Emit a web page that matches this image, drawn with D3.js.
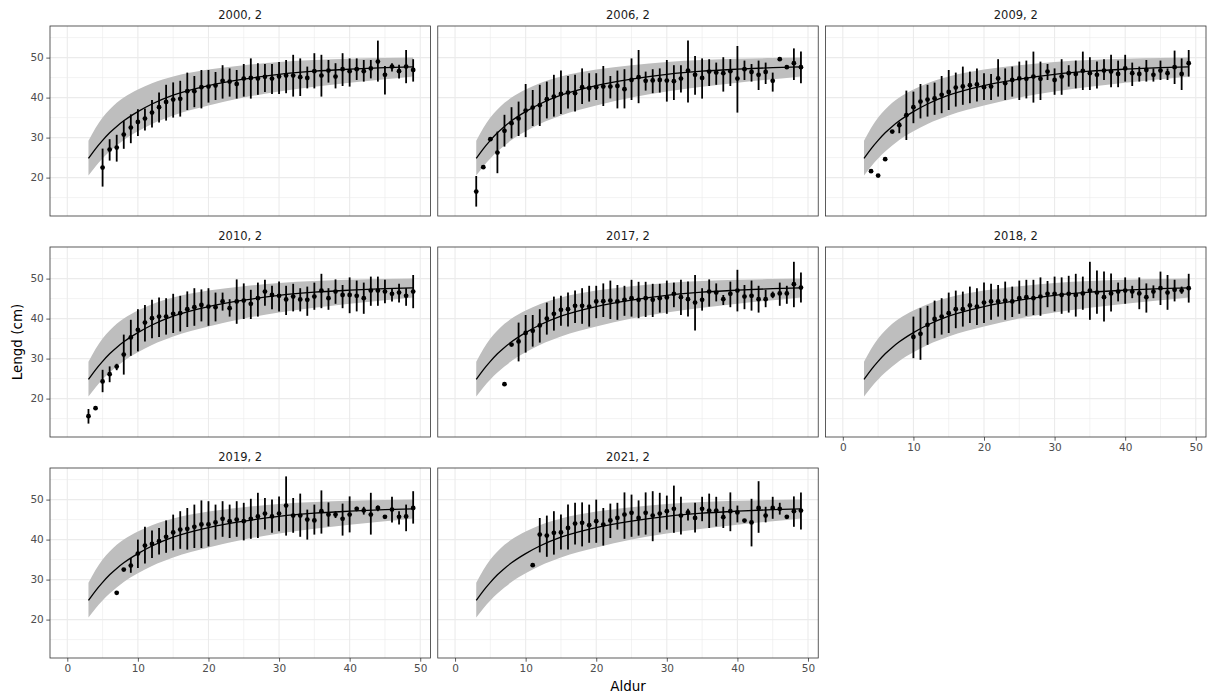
<!DOCTYPE html>
<html>
<head>
<meta charset="utf-8">
<script src="https://cdn.jsdelivr.net/npm/d3@7"></script>
<style>
  body { margin: 0; background: #fff; }
  svg { display: block; }
</style>
</head>
<body>
<script>
// facet titles
const panelTitles = ["2000, 2", "2006, 2", "2009, 2", "2010, 2", "2017, 2", "2018, 2", "2019, 2", "2021, 2"];

// fitted growth curve and its band
const curveAge  = [3, 4, 5, 6, 7, 8, 10, 12, 15, 20, 25, 30, 35, 40, 45, 49];
const curveMean = [24.8, 27.2, 29.3, 31.2, 32.8, 34.2, 36.5, 38.4, 40.6, 43.0, 44.6, 45.8, 46.6, 47.1, 47.5, 47.7];
const curveLow  = [20.5, 22.8, 24.8, 26.5, 28.0, 29.4, 31.6, 33.4, 35.5, 38.0, 40.0, 41.5, 42.7, 43.7, 44.6, 45.3];
const curveHigh = [29.2, 32.4, 35.0, 37.0, 38.7, 40.0, 42.0, 43.6, 45.3, 47.0, 48.1, 48.9, 49.4, 49.7, 49.9, 50.0];

const xTicks = [0, 10, 20, 30, 40, 50];
const yTicks = [20, 30, 40, 50];

// observations: [age, mean, lower, upper]
const obs2000 = [[5,22.5,17.75,27.25],[6,27,24.25,29.6],[7,27.5,24,30.7],[8,30.75,27.2,34.2],[9,32.5,28.6,35.8],[10,33.9,30.4,37.1],[11,34.75,31.75,37.3],[12,36.25,32.5,39.4],[13,37.6,33.75,41.25],[14,38.9,34.25,43.2],[15,39.5,35,43.8],[16,39.7,35.25,44.2],[17,41.6,36.9,46.25],[18,41.6,37.6,45.4],[19,42.6,37.3,46.9],[20,42.75,38.75,46.9],[21,43,39.4,46.4],[22,44.2,39.75,48.1],[23,44,40.25,47.3],[24,43.4,39.75,46.9],[25,44.75,40.25,48.4],[26,44.9,39.75,49.8],[27,44.75,40.7,48.6],[28,45.2,41.4,48.4],[29,44.75,40.9,48.4],[30,45.25,40.9,48.9],[31,45.5,41.1,49.4],[32,45.5,40.25,50.7],[33,45.1,40.4,49.8],[34,44.9,42.3,47.75],[35,46.6,42.3,51.1],[36,45.5,40.25,50.7],[37,46.75,43.75,49.4],[38,45.25,42.3,48.6],[39,47.1,42.9,51.1],[40,46.6,42.75,49.8],[41,47.1,44.4,49.8],[42,46.6,44,49.4],[43,47.3,44.8,49.4],[44,49,44,54.25],[45,45.7,40.8,47.9],[46,47.75,46.5,48.6],[47,46.6,44.8,48.2],[48,47.75,43.6,51.9],[49,46.9,44,49.6]];
const obs2006 = [[3,16.5,12.75,20.4],[4,22.6,null,null],[5,29.6,null,null],[6,26.25,21.1,31.5],[7,31.7,27.75,35.7],[8,33.6,29.8,37.6],[9,34.8,30.4,39],[10,36.75,30.1,43.4],[11,37.5,32.9,41.9],[12,38.1,32.9,43.2],[13,39.6,34.8,44],[14,40.25,35.25,45.7],[15,40.9,35.9,46.75],[16,41.25,37.3,45.4],[17,41.1,36.5,45.7],[18,42.6,38.4,47.3],[19,42.4,39,46.1],[20,42.6,39.4,46.1],[21,42.75,37.9,47.9],[22,42.75,39.8,45.4],[23,42.9,37.3,46.75],[24,42.1,37.3,47.1],[25,44.4,39.4,49.8],[26,45.1,38.6,51.9],[27,44.2,41.75,46.5],[28,44.3,41.1,47.1],[29,44.4,41.25,47.3],[30,44.25,39,49.4],[31,44.1,39.4,48.1],[32,44.75,41.25,48.1],[33,46.75,38.75,54.25],[34,45.7,40.7,50.4],[35,44.9,39.75,49.8],[36,46.5,42.9,49.6],[37,46.25,43.2,48.75],[38,46.1,41.5,50.1],[39,46.6,42.9,49.6],[40,44.75,36.25,52.9],[41,47.1,44.4,49.25],[42,46.4,44,48.4],[43,45.7,41.9,49.25],[44,46.4,43.4,48.75],[45,44.2,41.5,46.25],[46,49.6,null,null],[47,47.6,null,null],[48,48.6,44.4,52.3],[49,47.6,43.6,51.5]];
const obs2009 = [[4,21.6,null,null],[5,20.5,null,null],[6,24.6,null,null],[7,31.5,null,null],[8,33.1,31.1,34],[9,35.6,29.4,41.75],[10,37.6,33.6,41.5],[11,39,34.8,43.4],[12,39.5,35.25,43.2],[13,39.8,35.7,43.75],[14,40.7,36.1,45.4],[15,41.4,36.9,46.9],[16,42.5,37.75,46.25],[17,42.8,38.2,47.75],[18,43.1,38.6,46.5],[19,43.3,39,47.3],[20,42.6,39.4,46.1],[21,42.75,39.4,45.9],[22,44.8,40.25,49.6],[23,43.6,39.4,47.3],[24,44.4,40.25,47.75],[25,44.8,39.4,49],[26,44.7,39.8,49.25],[27,45.25,38.75,51.5],[28,44.7,39.4,49],[29,46.5,44.4,48.4],[30,44.4,40.7,47.3],[31,45.25,40.7,49.6],[32,46.1,42.75,48.1],[33,45.9,42.3,49.25],[34,46.7,41.9,51.5],[35,46.1,41.9,50.1],[36,45.7,42.3,49],[37,46.75,44.4,49.6],[38,46.5,42.6,50.7],[39,45.9,42.6,49.25],[40,47.3,44,50.7],[41,46.1,42.9,48.75],[42,45.9,44,47.75],[43,46.9,44,49.4],[44,45.7,44,47.3],[45,46.75,44.4,49.25],[46,46.1,44.4,47.3],[47,47.6,43.4,51.75],[48,45.9,41.9,49.8],[49,48.6,45.25,51.9]];
const obs2010 = [[3,15.6,13.75,17.4],[4,17.6,null,null],[5,24.3,21.6,27.2],[6,26.1,24.1,28.05],[7,28,27.1,28.7],[8,31,26,36],[9,35.3,30.7,39.7],[10,37.2,31.8,42.35],[11,39,34.3,43.4],[12,40.1,35.1,44.7],[13,40.5,35.4,45.3],[14,40.5,36,45.1],[15,41.2,36.4,46.2],[16,41.35,36.8,45.7],[17,42.35,37.9,46.8],[18,42.85,38.2,47.6],[19,43.4,39.3,47.3],[20,43,38.2,47.6],[21,42.85,39.3,46.5],[22,44.3,42,46.5],[23,42.6,40.5,44.85],[24,44.3,38.7,49.8],[25,44.5,39.9,48.8],[26,43.7,39.9,47.2],[27,45.1,40.5,49],[28,46.75,43.2,49.7],[29,45.9,42.35,48.2],[30,45.7,41.8,49.25],[31,44.8,40.9,48.2],[32,45.5,41.8,48.7],[33,44.8,41.8,47.6],[34,44.7,40.7,48],[35,45.5,42.2,49],[36,47,42.6,51.2],[37,45.1,42.2,47.6],[38,46.75,43.7,49.8],[39,45.9,42.6,48.4],[40,45.9,41.35,50.3],[41,45.7,41.8,49.5],[42,45.1,41.2,49],[43,47,43.2,50.5],[44,47,43.2,50.5],[45,46.75,43.85,49.7],[46,46.2,44.3,47.6],[47,46.5,44,48.7],[48,45.7,43.2,47.6],[49,46.75,42.6,50.9]];
const obs2017 = [[7,23.6,null,null],[8,33.5,null,null],[9,34.3,29.3,39],[10,36.4,31.5,40.9],[11,36.95,33,40.9],[12,38.3,34,42.35],[13,40,36,44],[14,41.2,37,45.5],[15,42.2,38.2,45.7],[16,42.35,38,46.5],[17,43.2,38.9,47],[18,43.2,38.7,47.6],[19,43,38,48.2],[20,44.3,40.1,48.2],[21,44.35,40.4,48.8],[22,44.5,39.9,49.5],[23,44.3,39.7,48.4],[24,44.7,40.7,48.2],[25,45.1,40.5,49.7],[26,44.7,40.1,49.2],[27,45.1,40.4,49.2],[28,44.7,40.4,48.7],[29,45.1,41.5,48.7],[30,45.3,41.2,49.5],[31,46.2,42.85,49],[32,45.35,40.9,49.7],[33,44.85,40.5,49.25],[34,44,37,50.9],[35,44.7,42,47.6],[36,46.75,43,49.8],[37,46.5,44.3,48.8],[38,44.85,43.4,45.9],[39,46.2,42.85,49.25],[40,47,41.8,52.2],[41,45.5,42.35,48.4],[42,45.7,42,49.5],[43,44.85,41.5,48.2],[44,44.85,42.85,47.2],[45,45.9,45.1,46.75],[46,46.3,43.2,49],[47,46.3,43.7,48.2],[48,48.6,42.85,54.2],[49,47.75,44,51.5]];
const obs2018 = [[10,35.4,30.1,40.5],[11,36.2,29.7,42.6],[12,38.45,33.45,43.2],[13,39.9,35.1,44.5],[14,40.5,36,45.1],[15,41.35,36.4,46.5],[16,42.35,37.6,47],[17,42.35,38,46.75],[18,43.3,38.9,48],[19,43,38.4,47.6],[20,44,38.9,49],[21,44.3,39.7,48.7],[22,44.3,40.5,48.4],[23,44.5,39.7,49.25],[24,44.3,40.4,48],[25,45.1,41.2,49.5],[26,45.35,40.7,49.7],[27,45.1,40.9,49.7],[28,45.5,40.7,50.3],[29,46.2,42.85,49.4],[30,46.2,41.8,50.5],[31,45.9,41.2,50.3],[32,46.2,41.5,50.7],[33,45.9,40.5,51.2],[34,46.3,42.2,50.5],[35,47,39.7,54.2],[36,46.5,41.2,52],[37,45.35,39.3,51.75],[38,46.3,41.8,51.3],[39,46.75,44.3,49],[40,47,43.7,50.3],[41,46.75,45.1,48.2],[42,46.3,42.35,50.3],[43,45.35,41.5,48.8],[44,46.75,45.1,48.3],[45,47.6,43.4,51.75],[46,46.5,42.2,50.9],[47,47.2,44.3,49.7],[48,47,46.2,48],[49,47.6,44,51.2]];
const obs2019 = [[7,26.7,null,null],[8,32.5,null,null],[9,33.5,31.7,35.4],[10,36.5,32.9,40],[11,38.5,34,43.2],[12,38.9,35.4,42.3],[13,39.6,36.25,42.9],[14,40.7,36.7,44.8],[15,41.8,37.3,46.25],[16,42.5,37.7,47.1],[17,42.7,37.5,47.9],[18,43.2,37.9,48.75],[19,43.8,37.9,49.8],[20,43.8,38.3,49.6],[21,44.3,40,48.75],[22,45.2,40.7,49.6],[23,44.6,40.4,48.75],[24,45,40.7,49.6],[25,44.6,39.8,49.2],[26,45.2,40.2,50.2],[27,45.8,40.4,51.7],[28,46.5,42.5,50.4],[29,45.8,41.7,50],[30,46.5,42.1,50.8],[31,48.5,41,55.8],[32,46,41.7,50.4],[33,46,40.7,51.5],[34,45,40,47.5],[35,44.8,41.25,48.75],[36,47.1,41.5,52.3],[37,46.25,43.3,49.3],[38,46.25,45.4,47.1],[39,45.2,41,49],[40,46.25,41.8,50.8],[41,47.7,47.1,48.2],[42,47.3,46.25,48.2],[43,46.25,41.25,51.7],[44,47.9,47.1,48.5],[45,45.7,null,null],[46,47.5,44.3,50.7],[47,45.7,43.75,47.1],[48,45.8,42.1,48.75],[49,47.9,44,52.1]];
const obs2021 = [[11,33.6,null,null],[12,41.25,36.8,45.4],[13,41,35.7,46],[14,41.7,36.25,47.1],[15,41.8,37.5,46.25],[16,42.9,37.5,48.75],[17,44,38.75,49.2],[18,44.2,38.3,49.3],[19,43.6,39.2,48.75],[20,44.6,39.2,50],[21,43.75,38.5,47.9],[22,44.8,40.4,49],[23,45.4,42.5,49.2],[24,46.25,40.2,51.8],[25,46.7,40.7,51.25],[26,45.4,41,49.8],[27,46.7,41.25,51.8],[28,46,39.6,52.1],[29,46.5,41.8,51.7],[30,47.1,42.5,51],[31,47.7,41.7,53.5],[32,46,41.25,50.7],[33,46.8,44.8,47.7],[34,45.4,41.8,49.2],[35,47.7,44.6,50.7],[36,47.25,42.9,51.5],[37,47.25,43.3,50.7],[38,45.6,42.9,48.2],[39,47.1,42.1,51.8],[40,46.8,44.3,48.5],[41,44.75,null,null],[42,44.3,38.3,50.2],[43,47.9,41.7,54.6],[44,46,44.3,48.2],[45,47.9,45.2,50.7],[46,47.7,46.25,49.2],[47,45.7,null,null],[48,47.1,43.2,50.8],[49,47.25,42.5,51.8]];

const panelData = [obs2000, obs2006, obs2009, obs2010, obs2017, obs2018, obs2019, obs2021];

// layout
const width = 1208, height = 698;
const margin = { left: 50, right: 2, top: 26 };
const ncol = 3;
const gapX = 7.3;
const panelW = (width - margin.left - margin.right - 2 * gapX) / ncol;
const panelH = 190;
const rowStep = 221;
const font = "DejaVu Sans, Verdana, sans-serif";

const svg = d3.select("body").append("svg")
  .attr("width", width)
  .attr("height", height)
  .style("background", "#ffffff");

const curveRows = curveAge.map((a, i) => ({ age: a, mean: curveMean[i], lo: curveLow[i], hi: curveHigh[i] }));

panelTitles.forEach((title, i) => {
  const col = i % ncol, row = Math.floor(i / ncol);
  const px = margin.left + col * (panelW + gapX);
  const py = margin.top + row * rowStep;

  const x = d3.scaleLinear().domain([-2.45, 51.45]).range([0, panelW]);
  const y = d3.scaleLinear().domain([10.4, 57.9]).range([panelH, 0]);

  const g = svg.append("g").attr("transform", `translate(${px},${py})`);

  g.append("rect").attr("width", panelW).attr("height", panelH).attr("fill", "#fff");

  // grid: minor then major
  const minorX = [5, 15, 25, 35, 45], minorY = [15, 25, 35, 45, 55];
  g.selectAll(".minx").data(minorX).join("line")
    .attr("x1", d => x(d)).attr("x2", d => x(d)).attr("y1", 0).attr("y2", panelH)
    .attr("stroke", "#ebebeb").attr("stroke-width", 0.6);
  g.selectAll(".miny").data(minorY).join("line")
    .attr("y1", d => y(d)).attr("y2", d => y(d)).attr("x1", 0).attr("x2", panelW)
    .attr("stroke", "#ebebeb").attr("stroke-width", 0.6);
  g.selectAll(".majx").data(xTicks).join("line")
    .attr("x1", d => x(d)).attr("x2", d => x(d)).attr("y1", 0).attr("y2", panelH)
    .attr("stroke", "#ebebeb").attr("stroke-width", 1.1);
  g.selectAll(".majy").data(yTicks).join("line")
    .attr("y1", d => y(d)).attr("y2", d => y(d)).attr("x1", 0).attr("x2", panelW)
    .attr("stroke", "#ebebeb").attr("stroke-width", 1.1);

  // ribbon + fitted line
  g.append("path").datum(curveRows)
    .attr("fill", "#bebebe")
    .attr("d", d3.area().x(d => x(d.age)).y0(d => y(d.lo)).y1(d => y(d.hi)).curve(d3.curveMonotoneX));
  g.append("path").datum(curveRows)
    .attr("fill", "none").attr("stroke", "#000").attr("stroke-width", 1.3)
    .attr("d", d3.line().x(d => x(d.age)).y(d => y(d.mean)).curve(d3.curveMonotoneX));

  // error bars + points
  const data = panelData[i];
  g.selectAll(".bar").data(data.filter(d => d[2] != null)).join("line")
    .attr("x1", d => x(d[0])).attr("x2", d => x(d[0]))
    .attr("y1", d => y(d[2])).attr("y2", d => y(d[3]))
    .attr("stroke", "#000").attr("stroke-width", 1.8);
  g.selectAll(".pt").data(data).join("circle")
    .attr("cx", d => x(d[0])).attr("cy", d => y(d[1])).attr("r", 2.4)
    .attr("fill", "#000");

  // border
  g.append("rect").attr("width", panelW).attr("height", panelH)
    .attr("fill", "none").attr("stroke", "#333333").attr("stroke-width", 0.8);

  // strip title
  g.append("text").attr("x", panelW / 2).attr("y", -7)
    .attr("text-anchor", "middle").attr("font-family", font).attr("font-size", 11.5)
    .attr("fill", "#1a1a1a").text(title);

  // y axis on first column
  if (col === 0) {
    const ay = g.append("g").call(d3.axisLeft(y).tickValues(yTicks).tickSize(3.7).tickPadding(2.5));
    ay.select(".domain").remove();
    ay.selectAll(".tick line").attr("stroke", "#333333").attr("stroke-width", 0.8);
    ay.selectAll(".tick text").attr("font-family", font).attr("font-size", 10.5).attr("fill", "#4d4d4d");
  }
  // x axis on bottom-most panel of each column
  if (i + ncol >= panelTitles.length) {
    const ax = g.append("g").attr("transform", `translate(0,${panelH})`)
      .call(d3.axisBottom(x).tickValues(xTicks).tickSize(3.7).tickPadding(2.5));
    ax.select(".domain").remove();
    ax.selectAll(".tick line").attr("stroke", "#333333").attr("stroke-width", 0.8);
    ax.selectAll(".tick text").attr("font-family", font).attr("font-size", 10.5).attr("fill", "#4d4d4d");
  }
});

// axis titles
const plotTop = margin.top, plotBottom = margin.top + 2 * rowStep + panelH;
svg.append("text")
  .attr("transform", `translate(17,${(plotTop + plotBottom) / 2}) rotate(-90)`)
  .attr("text-anchor", "middle").attr("dominant-baseline", "central")
  .attr("font-family", font).attr("font-size", 13.5).attr("fill", "#000")
  .text("Lengd (cm)");
svg.append("text")
  .attr("x", margin.left + (width - margin.left - margin.right) / 2).attr("y", 691)
  .attr("text-anchor", "middle")
  .attr("font-family", font).attr("font-size", 13.5).attr("fill", "#000")
  .text("Aldur");
</script>
</body>
</html>
